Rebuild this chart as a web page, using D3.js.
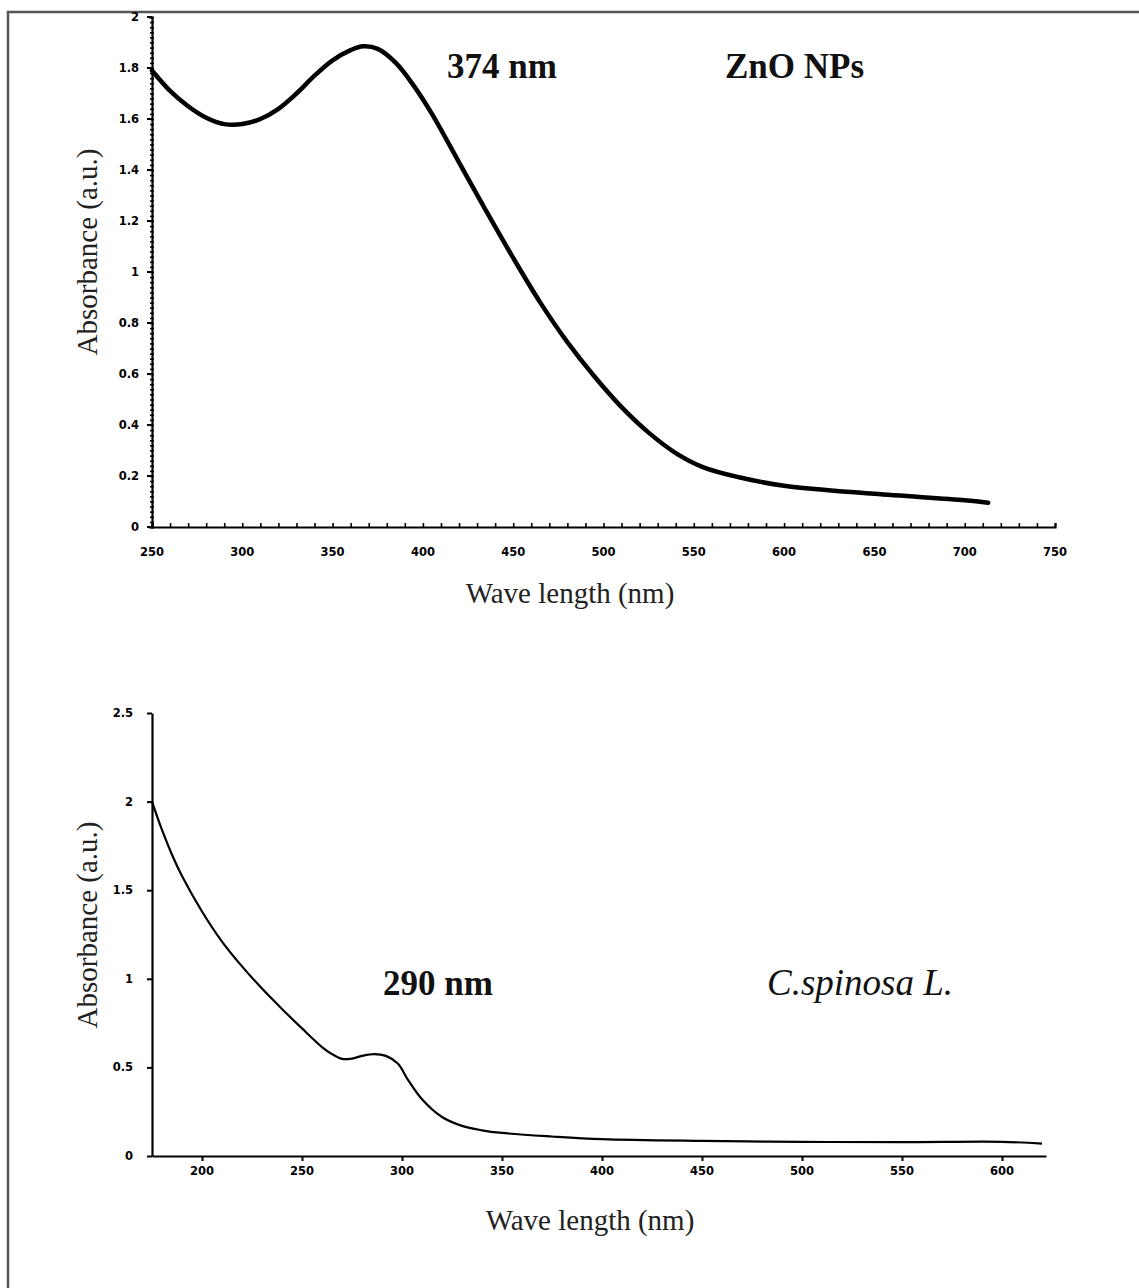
<!DOCTYPE html>
<html lang="en">
<head>
    <meta charset="UTF-8">
    <title>UV-Vis spectra</title>
    <script src="https://d3js.org/d3.v7.min.js"></script>
    <style>
        body { margin: 0; background: #fff; }
        .tick-label { font: bold 11.5px "DejaVu Sans", sans-serif; fill: #000; }
        .axis-title { font: 29px "Liberation Serif", serif; fill: #222; }
        .peak { font: bold 35px "Liberation Serif", serif; fill: #111; }
        .sample { font: bold 35px "Liberation Serif", serif; fill: #111; }
        .sample.ital { font-style: italic; font-weight: normal; font-size: 37px; }
    </style>
</head>
<body>
    <svg width="1139" height="1288"></svg>
    <script>
        // ZnO NPs spectrum (top)
        var znoWave = [250, 260, 270, 280, 290, 300, 310, 320, 330, 340, 350, 360, 367, 375, 385, 395, 405, 420, 435,
                       450, 465, 480, 495, 510, 525, 540, 555, 575, 600, 650, 700, 713];
        var znoAbs  = [1.79, 1.71, 1.65, 1.605, 1.58, 1.58, 1.60, 1.64, 1.70, 1.77, 1.83, 1.87, 1.885, 1.875, 1.82, 1.73, 1.62, 1.43, 1.24,
                       1.055, 0.88, 0.725, 0.59, 0.47, 0.37, 0.29, 0.235, 0.195, 0.162, 0.13, 0.105, 0.095];
        var znoXTicks = [250, 300, 350, 400, 450, 500, 550, 600, 650, 700, 750];
        var znoYTicks = [0, 0.2, 0.4, 0.6, 0.8, 1, 1.2, 1.4, 1.6, 1.8, 2];

        // C. spinosa extract spectrum (bottom)
        var capWave = [175, 180, 185, 190, 200, 210, 220, 230, 240, 250, 260, 265, 270, 275, 280, 286, 292, 298,
                       303, 310, 320, 330, 340, 350, 375, 400, 450, 500, 550, 600, 620];
        var capAbs  = [2.0, 1.84, 1.70, 1.58, 1.38, 1.21, 1.07, 0.945, 0.83, 0.72, 0.615, 0.575, 0.548, 0.55, 0.565, 0.575, 0.565, 0.52,
                       0.43, 0.32, 0.22, 0.17, 0.145, 0.13, 0.11, 0.095, 0.085, 0.08, 0.078, 0.08, 0.07];
        var capXTicks = [200, 250, 300, 350, 400, 450, 500, 550, 600];
        var capYTicks = [0, 0.5, 1, 1.5, 2, 2.5];

        var svg = d3.select("svg");

        // outer frame
        svg.append("path")
            .attr("d", "M8,1288 L8,12 L1139,12")
            .attr("fill", "none")
            .attr("stroke", "#555")
            .attr("stroke-width", 2.5);

        // ---------- top chart ----------
        var x1 = d3.scaleLinear().domain([250, 750]).range([152, 1055]);
        var y1 = d3.scaleLinear().domain([0, 2]).range([527, 17]);

        var gx1 = svg.append("g").attr("transform", "translate(0," + y1(0) + ")");
        gx1.call(d3.axisBottom(x1).tickValues(d3.range(250, 751, 10)).tickSize(-4).tickFormat(""));
        gx1.selectAll("line").attr("stroke", "#000").attr("stroke-width", 1.6);
        gx1.select(".domain").attr("stroke", "#000").attr("stroke-width", 2.2);
        gx1.selectAll(".lbl").data(znoXTicks).enter().append("text")
            .attr("class", "tick-label")
            .attr("x", function(d) { return x1(d); })
            .attr("y", 29)
            .attr("text-anchor", "middle")
            .text(function(d) { return d; });

        var gy1 = svg.append("g").attr("transform", "translate(" + x1(250) + ",0)");
        gy1.call(d3.axisLeft(y1).tickValues(d3.range(0, 101, 1).map(function(i) { return i * 0.02; })).tickSize(3).tickFormat(""));
        gy1.selectAll("line").attr("stroke", "#000").attr("stroke-width", 1.6).attr("x2", -2).attr("x1", 2);
        gy1.select(".domain").attr("stroke", "#000").attr("stroke-width", 2.2);
        gy1.selectAll(".maj").data(znoYTicks).enter().append("line")
            .attr("x1", -5).attr("x2", 0)
            .attr("y1", function(d) { return y1(d); })
            .attr("y2", function(d) { return y1(d); })
            .attr("stroke", "#000").attr("stroke-width", 2);
        gy1.selectAll(".lbl").data(znoYTicks).enter().append("text")
            .attr("class", "tick-label")
            .attr("x", -13)
            .attr("y", function(d) { return y1(d) + 4; })
            .attr("text-anchor", "end")
            .text(function(d) { return d; });

        var line1 = d3.line()
            .x(function(d) { return x1(d[0]); })
            .y(function(d) { return y1(d[1]); })
            .curve(d3.curveCatmullRom);
        svg.append("path")
            .datum(d3.zip(znoWave, znoAbs))
            .attr("d", line1)
            .attr("fill", "none")
            .attr("stroke", "#000")
            .attr("stroke-width", 4.5)
            .attr("stroke-linecap", "round");

        svg.append("text").attr("class", "peak").attr("x", 447).attr("y", 78).text("374 nm");
        svg.append("text").attr("class", "sample").attr("x", 725).attr("y", 78).text("ZnO NPs");
        svg.append("text").attr("class", "axis-title")
            .attr("transform", "translate(97,252) rotate(-90)")
            .attr("text-anchor", "middle")
            .text("Absorbance (a.u.)");
        svg.append("text").attr("class", "axis-title")
            .attr("x", 570).attr("y", 603)
            .attr("text-anchor", "middle")
            .text("Wave length (nm)");

        // ---------- bottom chart ----------
        var x2 = d3.scaleLinear().domain([175, 622]).range([152, 1046]);
        var y2 = d3.scaleLinear().domain([0, 2.5]).range([1156, 713]);

        var gx2 = svg.append("g").attr("transform", "translate(0," + y2(0) + ")");
        gx2.call(d3.axisBottom(x2).tickValues(capXTicks).tickSize(5).tickSizeOuter(0).tickFormat(""));
        gx2.selectAll("line").attr("stroke", "#000").attr("stroke-width", 2);
        gx2.select(".domain").attr("stroke", "#000").attr("stroke-width", 2.2);
        gx2.selectAll(".lbl").data(capXTicks).enter().append("text")
            .attr("class", "tick-label")
            .attr("x", function(d) { return x2(d); })
            .attr("y", 19)
            .attr("text-anchor", "middle")
            .text(function(d) { return d; });

        var gy2 = svg.append("g").attr("transform", "translate(" + x2(175) + ",0)");
        gy2.call(d3.axisLeft(y2).tickValues(capYTicks).tickSize(5).tickSizeOuter(0).tickFormat(""));
        gy2.selectAll("line").attr("stroke", "#000").attr("stroke-width", 2);
        gy2.select(".domain").attr("stroke", "#000").attr("stroke-width", 2.2);
        gy2.selectAll(".lbl").data(capYTicks).enter().append("text")
            .attr("class", "tick-label")
            .attr("x", -19)
            .attr("y", function(d) { return y2(d) + 4; })
            .attr("text-anchor", "end")
            .text(function(d) { return d; });

        var line2 = d3.line()
            .x(function(d) { return x2(d[0]); })
            .y(function(d) { return y2(d[1]); })
            .curve(d3.curveCatmullRom);
        svg.append("path")
            .datum(d3.zip(capWave, capAbs))
            .attr("d", line2)
            .attr("fill", "none")
            .attr("stroke", "#000")
            .attr("stroke-width", 2.2);

        svg.append("text").attr("class", "peak").attr("x", 383).attr("y", 995).text("290 nm");
        svg.append("text").attr("class", "sample ital").attr("x", 767).attr("y", 995).text("C.spinosa L.");
        svg.append("text").attr("class", "axis-title")
            .attr("transform", "translate(97,925) rotate(-90)")
            .attr("text-anchor", "middle")
            .text("Absorbance (a.u.)");
        svg.append("text").attr("class", "axis-title")
            .attr("x", 590).attr("y", 1230)
            .attr("text-anchor", "middle")
            .text("Wave length (nm)");
    </script>
</body>
</html>
